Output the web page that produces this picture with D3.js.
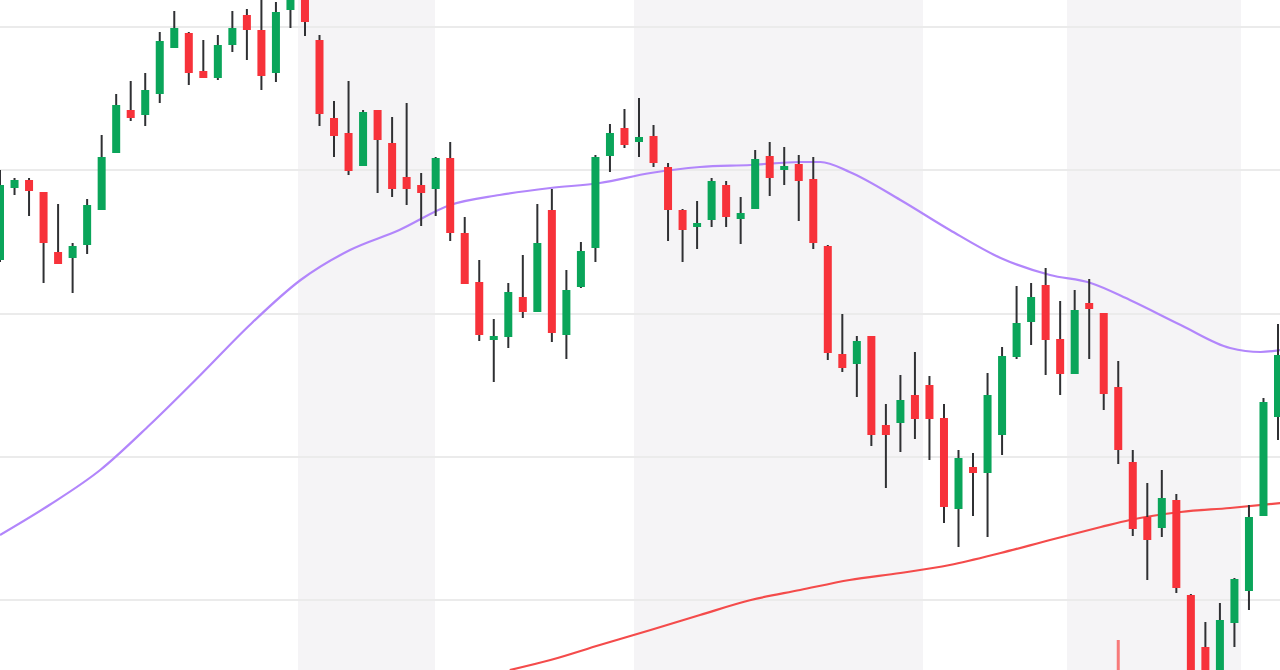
<!DOCTYPE html>
<html><head><meta charset="utf-8">
<script src="https://cdn.jsdelivr.net/npm/d3@7"></script>
<style>html,body{margin:0;padding:0;background:#fff;overflow:hidden}</style>
</head><body><svg id="c" width="1280" height="670"></svg>
<script>
// price units (higher = up)
const opens  = [740,812,820,808,748,742,755,790,847,890,885,906,952,967,929,922,955,985,970,927,990,1010,960,882,867,834,890,857,823,815,811,842,767,718,660,663,703,688,790,665,713,752,844,872,858,864,833,790,773,780,815,781,791,844,830,836,821,754,646,636,664,575,577,605,615,582,491,533,527,565,643,678,715,661,626,697,687,613,538,483,472,500,405,353,320,377,409,484,583];
const closes = [815,820,809,757,736,754,795,843,895,882,910,959,972,927,922,955,972,970,924,988,1000,978,886,864,829,888,860,811,811,807,842,767,716,665,664,708,688,757,667,710,749,843,867,855,863,837,790,770,777,819,783,787,841,822,834,819,757,647,632,659,565,565,600,581,581,493,542,527,605,644,677,703,660,626,690,691,606,550,471,460,502,412,330,320,380,421,483,598,645];
const highs  = [830,822,822,808,796,757,801,865,906,919,927,968,989,968,960,965,989,991,1005,998,1005,1020,965,899,919,890,890,883,897,827,843,858,783,740,681,717,745,796,811,730,758,845,876,891,902,875,837,791,799,822,819,803,850,858,853,845,843,755,686,664,664,596,625,648,624,596,550,547,627,653,714,717,732,699,710,721,687,639,550,517,530,506,406,378,397,422,495,602,676];
const lows   = [738,805,784,717,736,707,746,790,847,879,874,897,952,915,922,920,948,940,910,918,972,964,874,843,825,834,807,803,795,774,784,759,716,659,618,652,682,688,658,641,712,738,828,852,843,833,759,738,751,773,773,756,791,804,815,779,751,640,628,603,554,512,548,561,540,477,453,484,463,545,641,655,625,605,626,641,590,536,464,420,463,407,320,310,310,353,390,484,560];
const ma50   = [[0,465],[3.4,495],[6.9,530],[10.3,575],[13.8,625],[17.2,675],[20.7,720],[24.1,750],[27.5,770],[31,795],[34.4,805],[37.9,812],[41.3,817],[44.8,827],[48.2,833],[51.7,835],[55.1,838],[56.5,838],[58.5,828],[62,800],[65.4,770],[68.9,742],[72.3,725],[75.1,717],[77.8,700],[81.3,675],[84.7,652],[86.8,648],[88.2,650]];
const ma200  = [[35.1,330],[37.9,340],[41.3,355],[44.8,370],[48.2,385],[51.7,400],[55.1,410],[58.5,420],[62,427],[65.4,435],[68.9,447],[72.3,460],[75.8,473],[77.8,480],[81.3,488],[84.7,492],[88.2,497]];
const bands  = [[298,435],[634,923],[1067,1241]];
const gridLevels = [973,830,686,543,400];
const spikes = [[77,360,330]];

const W=1280,H=670;
const svg=d3.select("#c");
const x=d3.scaleLinear().domain([0,88]).range([0,1278]);
const y=d3.scaleLinear().domain([330,1000]).range([670,0]);
const bw=8;

svg.selectAll(".band").data(bands).enter().append("rect")
  .attr("x",d=>d[0]).attr("width",d=>d[1]-d[0]).attr("y",0).attr("height",H).attr("fill","#f5f4f6");
svg.selectAll(".grid").data(gridLevels).enter().append("line")
  .attr("x1",0).attr("x2",W).attr("y1",d=>y(d)).attr("y2",d=>y(d)).attr("stroke","#ebebeb").attr("stroke-width",2);

const line=d3.line().x(d=>x(d[0])).y(d=>y(d[1])).curve(d3.curveMonotoneX);
svg.append("path").datum(ma50).attr("d",line).attr("fill","none").attr("stroke","#b286fb").attr("stroke-width",2.2);
svg.append("path").datum(ma200).attr("d",line).attr("fill","none").attr("stroke","#f44b4b").attr("stroke-width",2.2);

svg.selectAll(".spike").data(spikes).enter().append("line")
  .attr("x1",d=>x(d[0])).attr("x2",d=>x(d[0])).attr("y1",d=>y(d[1])).attr("y2",d=>y(d[2]))
  .attr("stroke","#f77a7a").attr("stroke-width",3);

const idx=d3.range(opens.length);
const g=svg.selectAll(".c").data(idx).enter().append("g");
g.append("line").attr("x1",i=>x(i)).attr("x2",i=>x(i)).attr("y1",i=>y(highs[i])).attr("y2",i=>y(lows[i]))
  .attr("stroke","#2f3033").attr("stroke-width",2);
g.append("rect").attr("x",i=>x(i)-bw/2).attr("width",bw)
  .attr("y",i=>y(Math.max(opens[i],closes[i])))
  .attr("height",i=>Math.max(3,Math.abs(y(opens[i])-y(closes[i]))))
  .attr("fill",i=>closes[i]>=opens[i]?"#0aa55a":"#f7323a");
</script></body></html>
